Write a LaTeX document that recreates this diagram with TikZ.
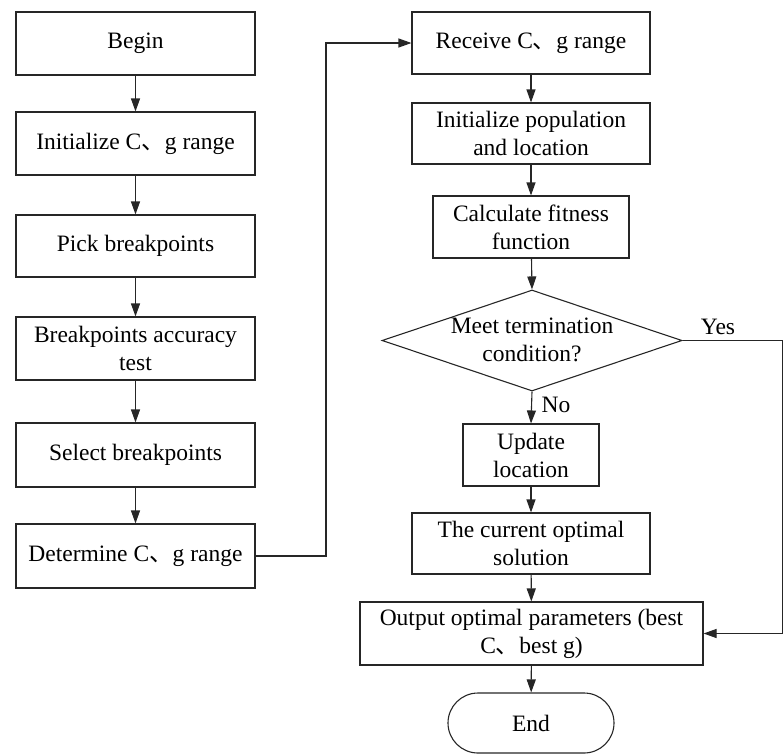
\documentclass[tikz,border=0pt]{standalone}
\usepackage{fontspec}
\setmainfont{Liberation Serif}
\newfontfamily\cjk{Noto Sans CJK SC}
\usetikzlibrary{arrows.meta,shapes.geometric}
\newcommand{\cm}{{\cjk 、}}
\begin{document}
\begin{tikzpicture}[x=1pt,y=-1pt,
  every node/.style={font=\fontsize{23.5}{28}\selectfont, text=black},
  box/.style={draw=black!85, line width=1.1pt, rectangle, align=center, inner sep=0pt},
  conn/.style={draw=black!85, line width=1.1pt},
  arr/.style={conn, -{Triangle[length=13pt,width=9pt]}}]
\useasboundingbox (0,0) rectangle (784,753);
% left column
\node[box, minimum width=239, minimum height=63] (begin) at (135.5,43.5) {Begin};
\node[box, minimum width=239, minimum height=63] (init) at (135.5,143.5) {Initialize C\cm g range};
\node[box, minimum width=239, minimum height=62] (pick) at (135.5,246) {Pick breakpoints};
\node[box, minimum width=239, minimum height=63] (acc) at (135.5,348.5) {Breakpoints accuracy\\test};
\node[box, minimum width=239, minimum height=64] (sel) at (135.5,455) {Select breakpoints};
\node[box, minimum width=239, minimum height=64] (det) at (135.5,556) {Determine C\cm g range};
% right column
\node[box, minimum width=238, minimum height=62] (rec) at (531,43) {Receive C\cm g range};
\node[box, minimum width=238, minimum height=61] (ipop) at (531,133.5) {Initialize population\\and location};
\node[box, minimum width=196, minimum height=62] (calc) at (531,227) {Calculate fitness\\function};
\node[draw=black!85, line width=1.1pt, diamond, minimum width=300, minimum height=101, inner sep=0pt] (dec) at (532,340.5) {};
\node[align=center] (dectext) at (532,340) {Meet termination\\condition?};
\node[box, minimum width=136, minimum height=62] (upd) at (531,455) {Update\\location};
\node[box, minimum width=238, minimum height=61] (cur) at (531,543.5) {The current optimal\\solution};
\node[box, minimum width=343, minimum height=63] (out) at (531.5,633.5) {Output optimal parameters (best\\C\cm best g)};
\node[box, minimum width=166, minimum height=60, rounded corners=30pt] (end) at (531,723) {End};
% labels
\node (yes) at (718,327) {Yes};
\node (no) at (556,405) {No};
\coordinate (yc) at (782.5,340.5);
\coordinate (lc) at (326,556);
% connectors
\draw[arr] (begin) -- (init);
\draw[arr] (init) -- (pick);
\draw[arr] (pick) -- (acc);
\draw[arr] (acc) -- (sel);
\draw[arr] (sel) -- (det);
\draw[arr] (det.east) -- (lc) |- (rec.west);
\draw[arr] (rec) -- (ipop);
\draw[arr] (ipop) -- (calc);
\draw[arr] (calc) -- (dec.north);
\draw[arr] (dec.south) -- (upd.north);
\draw[arr] (upd) -- (cur);
\draw[arr] (cur) -- (out);
\draw[arr] (out) -- (end);
\draw[arr] (dec.east) -- (yc) |- (out.east);
\end{tikzpicture}
\end{document}
